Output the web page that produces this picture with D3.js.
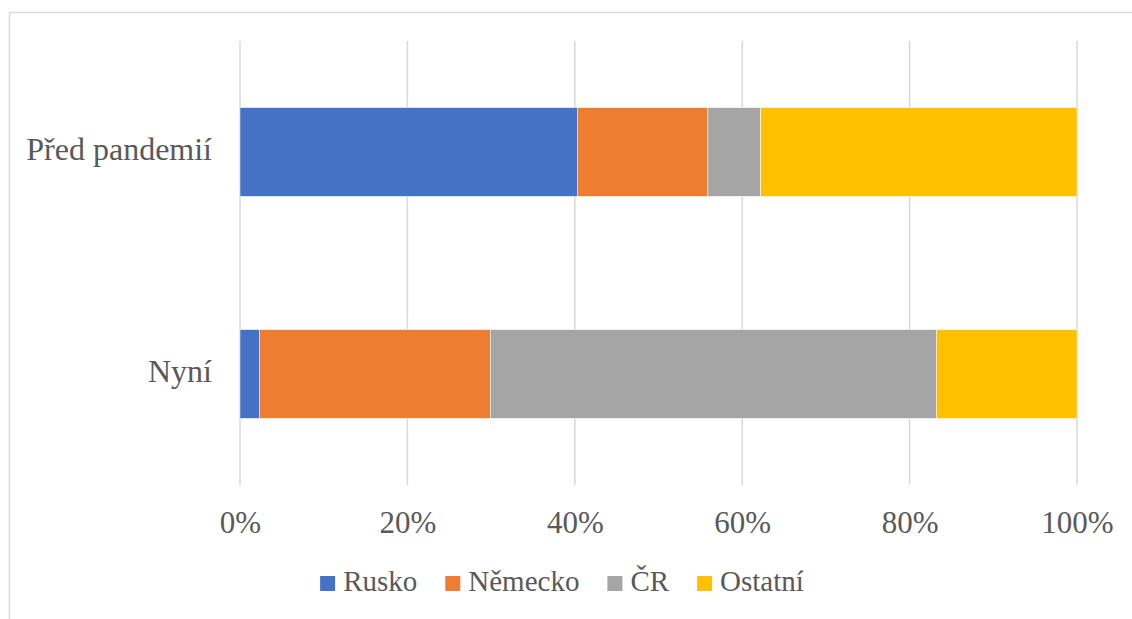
<!DOCTYPE html>
<html lang="cs">
<head>
<meta charset="UTF-8" />
<title>Před pandemií / Nyní</title>
<script src="https://d3js.org/d3.v7.min.js"></script>
<style>
  html, body { margin: 0; padding: 0; background: #fff; }
</style>
</head>
<body>
<div id="chart"></div>
<script>
// categories (top to bottom) and series shares in %
const categories = ["Před pandemií", "Nyní"];
const seriesNames = ["Rusko", "Německo", "ČR", "Ostatní"];
const rusko   = [40.3, 2.3];
const nemecko = [15.6, 27.6];
const cr      = [6.3, 53.3];
const ostatni = [37.8, 16.8];
const ticks = [0, 20, 40, 60, 80, 100];
const colors = ["#4472C4", "#ED7D31", "#A5A5A5", "#FFC000"];

const W = 1132, H = 619;
const plot = { left: 240, right: 1077, top: 41, bottom: 485 };

const svg = d3.select("#chart").append("svg")
  .attr("width", W).attr("height", H);

// chart frame
svg.append("rect")
  .attr("x", 9.5).attr("y", 12.5)
  .attr("width", W + 20).attr("height", H + 20)
  .attr("fill", "none").attr("stroke", "#d9d9d9").attr("stroke-width", 1.5);

const x = d3.scaleLinear().domain([0, 100]).range([plot.left, plot.right]);
const y = d3.scaleBand().domain(categories)
  .range([plot.top, plot.bottom])
  .paddingInner(0.6).paddingOuter(0.3);

// gridlines
svg.append("g").selectAll("line").data(ticks).join("line")
  .attr("x1", d => x(d)).attr("x2", d => x(d))
  .attr("y1", plot.top).attr("y2", plot.bottom)
  .attr("stroke", "#d9d9d9").attr("stroke-width", 1.5);

// stacked data
const rows = categories.map((c, i) => ({
  cat: c, Rusko: rusko[i], "Německo": nemecko[i], "ČR": cr[i], "Ostatní": ostatni[i]
}));
const stack = d3.stack().keys(seriesNames)(rows);

svg.append("g").selectAll("g").data(stack).join("g")
  .attr("fill", (d, i) => colors[i])
  .selectAll("rect").data(d => d).join("rect")
  .attr("x", d => x(d[0]))
  .attr("width", d => x(d[1]) - x(d[0]))
  .attr("y", d => y(d.data.cat))
  .attr("height", y.bandwidth())
  .attr("stroke", "#fff").attr("stroke-width", 0.5);

// x axis labels
const xAxis = svg.append("g")
  .attr("transform", `translate(0,${plot.bottom})`)
  .call(d3.axisBottom(x).tickValues(ticks).tickFormat(d => d + "%").tickSize(0).tickPadding(26));
xAxis.select(".domain").remove();
xAxis.selectAll("text").style("font-size", "31px");

// y axis labels
const yAxis = svg.append("g")
  .attr("transform", `translate(${plot.left},0)`)
  .call(d3.axisLeft(y).tickSize(0).tickPadding(28));
yAxis.select(".domain").remove();
yAxis.selectAll("text").style("font-size", "32px").attr("dy", "0.26em");

// legend
const legend = svg.append("g");
const items = legend.selectAll("g").data(seriesNames).join("g");
items.append("rect").attr("width", 15).attr("height", 15).attr("y", -15)
  .attr("fill", (d, i) => colors[i]);
items.append("text").attr("x", 23).style("font-size", "29px").text(d => d);

// all texts: serif, grey
svg.selectAll("text")
  .style("font-family", "'Liberation Serif'")
  .attr("fill", "#595959");

let off = 0;
items.each(function () {
  const g = d3.select(this);
  g.attr("transform", `translate(${off},0)`);
  off += 23 + g.select("text").node().getComputedTextLength() + 28;
});
const total = off - 28;
legend.attr("transform", `translate(${562 - total / 2},591)`);
</script>
</body>
</html>
